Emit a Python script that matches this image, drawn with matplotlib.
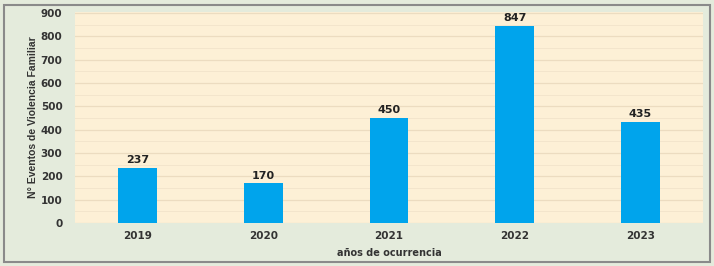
import matplotlib
matplotlib.use("Agg")
import matplotlib.pyplot as plt
from matplotlib.patches import Rectangle

years = ["2019", "2020", "2021", "2022", "2023"]
events = [237, 170, 450, 847, 435]
yticks = [0, 100, 200, 300, 400, 500, 600, 700, 800, 900]

plt.rcParams['font.family'] = ['DejaVu Sans']

fig = plt.figure(figsize=(7.14, 2.66), dpi=100)
fig.patch.set_facecolor('#e4ebdc')
fig.patches.append(Rectangle((4/714, 4/266), 706/714, 257/266, transform=fig.transFigure,
                             fill=False, edgecolor='#8a8a8a', linewidth=1.5))

ax = fig.add_axes([75/714, 1 - 223/266, 628/714, 211/266])
ax.set_facecolor('#fdf0d6')
x = list(range(len(years)))
bars = ax.bar(x, events, width=0.31, color='#00a4ec', zorder=3)
for xi, v in zip(x, events):
    ax.text(xi, v + 12, str(v), ha='center', va='bottom', fontsize=8, fontweight='bold', color='#222222')

ax.set_xlim(-0.5, len(years) - 0.5)
ax.set_ylim(0, 905)
ax.set_yticks(yticks)
ax.set_yticks([50 + 100 * i for i in range(9)], minor=True)
ax.set_xticks(x)
ax.set_xticklabels(years)
ax.tick_params(axis='both', length=0, labelsize=7.5, colors='#333333')
ax.tick_params(axis='y', pad=9)
ax.tick_params(axis='x', pad=6)
ax.tick_params(axis='y', which='minor', length=0)
for lbl in ax.get_xticklabels() + ax.get_yticklabels():
    lbl.set_fontweight('bold')
ax.grid(axis='y', which='major', color='#ecdcc0', linewidth=0.9, zorder=0)
ax.grid(axis='y', which='minor', color='#f3e5cc', linewidth=0.7, zorder=0)
for s in ax.spines.values():
    s.set_visible(False)

ax.set_xlabel('años de ocurrencia', fontsize=7, fontweight='bold', color='#333333', labelpad=5)
ax.set_ylabel('N° Eventos de Violencia Familiar', fontsize=7.5, fontweight='bold', color='#333333',
              labelpad=2, family=['Liberation Sans', 'DejaVu Sans'])

fig.savefig('out.png', dpi=100, facecolor=fig.get_facecolor())
